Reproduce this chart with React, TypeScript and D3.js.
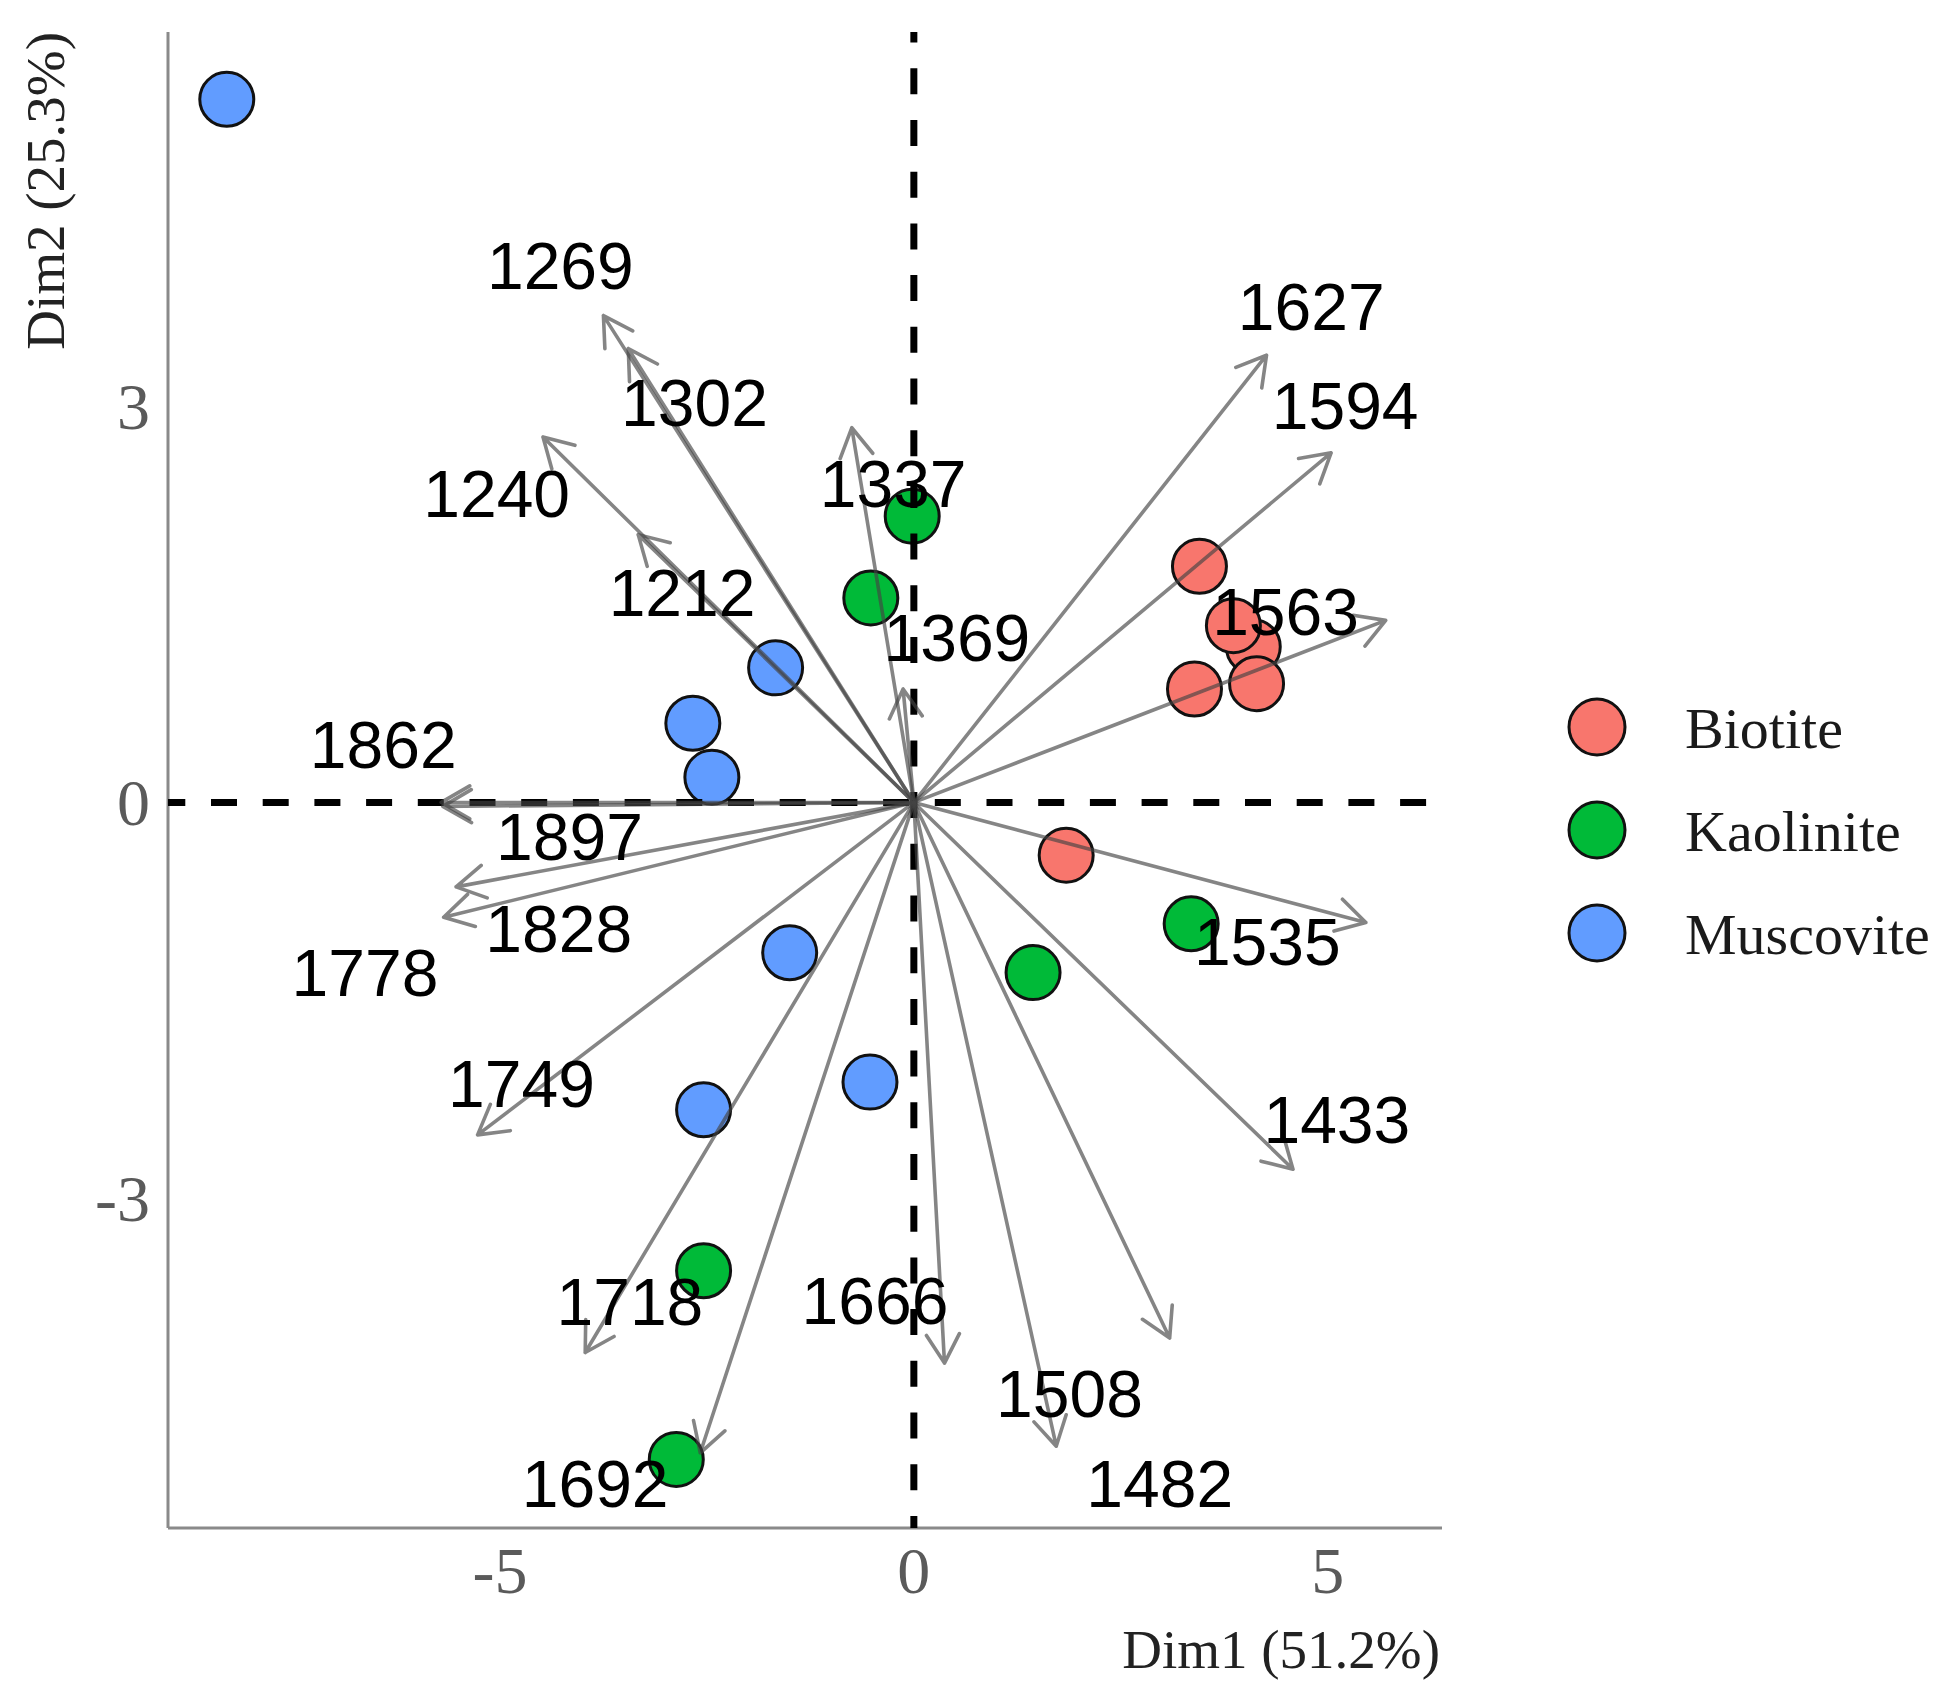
import { useEffect, useRef } from 'react';
import * as d3 from 'd3';

// PCA biplot: individuals (minerals) + variable loadings (wavenumbers)
const WIDTH = 1953;
const HEIGHT = 1706;

const groupNames = ['Biotite', 'Kaolinite', 'Muscovite'];
const groupColors = ['#F8766D', '#00BA38', '#619CFF'];

const biotiteDim1 = [4.1, 3.45, 3.86, 3.39, 4.14, 1.84];
const biotiteDim2 = [1.18, 1.79, 1.34, 0.86, 0.9, -0.4];
const kaoliniteDim1 = [-0.02, -0.52, 3.35, 1.44, -2.54, -2.87];
const kaoliniteDim2 = [2.17, 1.55, -0.92, -1.29, -3.55, -4.98];
const muscoviteDim1 = [-8.3, -1.67, -2.67, -2.44, -1.5, -0.53, -2.54];
const muscoviteDim2 = [5.33, 1.02, 0.6, 0.19, -1.14, -2.12, -2.33];

const wavenumbers = ['1269', '1302', '1240', '1212', '1337', '1369', '1627', '1594', '1563', '1862', '1897', '1828', '1778', '1749', '1718', '1692', '1666', '1508', '1482', '1433', '1535'];
const loadingDim1 = [-3.75, -3.45, -4.48, -3.33, -0.75, -0.13, 4.26, 5.04, 5.7, -5.71, -5.69, -5.53, -5.68, -5.27, -3.97, -2.58, 0.37, 3.09, 1.72, 4.58, 5.46];
const loadingDim2 = [3.69, 3.44, 2.77, 2.03, 2.84, 0.86, 3.39, 2.65, 1.38, 0.0, -0.03, -0.64, -0.87, -2.52, -4.17, -4.93, -4.25, -4.06, -4.88, -2.78, -0.91];
// repelled label positions (data units)
const labelDim1 = [-4.27, -2.65, -5.04, -2.8, -0.25, 0.52, 4.8, 5.21, 4.49, -6.41, -4.16, -4.29, -6.63, -4.74, -3.43, -3.85, -0.47, 1.88, 2.97, 5.11, 4.27];
const labelDim2 = [4.07, 3.03, 2.34, 1.59, 2.42, 1.25, 3.76, 3.01, 1.45, 0.44, -0.26, -0.95, -1.29, -2.13, -3.78, -5.16, -3.77, -4.48, -5.16, -2.4, -1.05];

const xTicks = [-5, 0, 5];
const yTicks = [-3, 0, 3];
const xTitle = 'Dim1 (51.2%)';
const yTitle = 'Dim2 (25.3%)';

const SERIF = "'Liberation Serif', 'Times New Roman', serif";
const SANS = "'Liberation Sans', Arial, sans-serif";

export default function App() {
    const svgRef = useRef<SVGSVGElement | null>(null);

    useEffect(() => {
        if (!svgRef.current) {
            return;
        }
        const svg = d3.select(svgRef.current);
        svg.selectAll('*').remove();

        const panel = { left: 168, right: 1442, top: 32, bottom: 1528 };
        const x = d3.scaleLinear().domain([-9.01, 6.38]).range([panel.left, panel.right]);
        const y = d3.scaleLinear().domain([-5.5, 5.84]).range([panel.bottom, panel.top]);
        const color = d3.scaleOrdinal<string, string>().domain(groupNames).range(groupColors);

        const samples = [
            ...biotiteDim1.map((v, i) => ({ group: 'Biotite', d1: v, d2: biotiteDim2[i] })),
            ...kaoliniteDim1.map((v, i) => ({ group: 'Kaolinite', d1: v, d2: kaoliniteDim2[i] })),
            ...muscoviteDim1.map((v, i) => ({ group: 'Muscovite', d1: v, d2: muscoviteDim2[i] })),
        ];

        const variables = wavenumbers.map((name, i) => ({
            name,
            d1: loadingDim1[i],
            d2: loadingDim2[i],
            l1: labelDim1[i],
            l2: labelDim2[i],
        }));

        svg.append('rect').attr('width', WIDTH).attr('height', HEIGHT).attr('fill', '#ffffff');

        // axis lines (left and bottom only)
        svg.append('line')
            .attr('x1', panel.left)
            .attr('x2', panel.left)
            .attr('y1', panel.top)
            .attr('y2', panel.bottom)
            .attr('stroke', '#8a8a8a')
            .attr('stroke-width', 3);
        svg.append('line')
            .attr('x1', panel.left)
            .attr('x2', panel.right)
            .attr('y1', panel.bottom)
            .attr('y2', panel.bottom)
            .attr('stroke', '#8a8a8a')
            .attr('stroke-width', 3);

        // tick labels
        svg.append('g')
            .selectAll('text')
            .data(xTicks)
            .join('text')
            .attr('x', (d) => x(d))
            .attr('y', 1593)
            .attr('text-anchor', 'middle')
            .attr('font-family', SERIF)
            .attr('font-size', 66)
            .attr('fill', '#5a5a5a')
            .text((d) => String(d));

        svg.append('g')
            .selectAll('text')
            .data(yTicks)
            .join('text')
            .attr('x', 150)
            .attr('y', (d) => y(d))
            .attr('dy', '0.34em')
            .attr('text-anchor', 'end')
            .attr('font-family', SERIF)
            .attr('font-size', 66)
            .attr('fill', '#5a5a5a')
            .text((d) => String(d));

        // axis titles
        svg.append('text')
            .attr('x', panel.right - 2)
            .attr('y', 1668)
            .attr('text-anchor', 'end')
            .attr('font-family', SERIF)
            .attr('font-size', 55)
            .attr('fill', '#222')
            .text(xTitle);

        svg.append('text')
            .attr('transform', `translate(64, ${panel.top}) rotate(-90)`)
            .attr('text-anchor', 'end')
            .attr('font-family', SERIF)
            .attr('font-size', 55)
            .attr('fill', '#222')
            .text(yTitle);

        // individuals
        svg.append('g')
            .selectAll('circle')
            .data(samples)
            .join('circle')
            .attr('cx', (d) => x(d.d1))
            .attr('cy', (d) => y(d.d2))
            .attr('r', 27)
            .attr('fill', (d) => color(d.group))
            .attr('stroke', '#111')
            .attr('stroke-width', 3);

        // reference lines at zero
        svg.append('line')
            .attr('x1', panel.left)
            .attr('x2', panel.right)
            .attr('y1', y(0))
            .attr('y2', y(0))
            .attr('stroke', '#000')
            .attr('stroke-width', 7)
            .attr('stroke-dasharray', '26 25.7')
            .attr('stroke-dashoffset', 8.7);
        svg.append('line')
            .attr('x1', x(0))
            .attr('x2', x(0))
            .attr('y1', panel.top)
            .attr('y2', panel.bottom)
            .attr('stroke', '#000')
            .attr('stroke-width', 7)
            .attr('stroke-dasharray', '26 25.7')
            .attr('stroke-dashoffset', 15.4);

        // loading arrows
        const ox = x(0);
        const oy = y(0);
        const headLen = 33;
        const headAngle = Math.PI / 6;
        const arrows = svg.append('g')
            .attr('fill', 'none')
            .attr('stroke', '#444')
            .attr('stroke-opacity', 0.65)
            .attr('stroke-width', 3.6)
            .attr('stroke-linecap', 'round')
            .attr('stroke-linejoin', 'round');

        arrows.selectAll('path')
            .data(variables)
            .join('path')
            .attr('d', (v) => {
                const tx = x(v.d1);
                const ty = y(v.d2);
                const a = Math.atan2(ty - oy, tx - ox);
                const b1x = tx - headLen * Math.cos(a - headAngle);
                const b1y = ty - headLen * Math.sin(a - headAngle);
                const b2x = tx - headLen * Math.cos(a + headAngle);
                const b2y = ty - headLen * Math.sin(a + headAngle);
                const path = d3.path();
                path.moveTo(ox, oy);
                path.lineTo(tx, ty);
                path.moveTo(b1x, b1y);
                path.lineTo(tx, ty);
                path.lineTo(b2x, b2y);
                return path.toString();
            });

        // variable labels
        svg.append('g')
            .selectAll('text')
            .data(variables)
            .join('text')
            .attr('x', (v) => x(v.l1))
            .attr('y', (v) => y(v.l2))
            .attr('dy', '0.36em')
            .attr('text-anchor', 'middle')
            .attr('font-family', SANS)
            .attr('font-size', 66)
            .attr('fill', '#000')
            .text((v) => v.name);

        // legend
        const legend = svg.append('g').attr('transform', 'translate(1597, 727)');
        const items = legend.selectAll('g')
            .data(groupNames)
            .join('g')
            .attr('transform', (_, i) => `translate(0, ${i * 103})`);
        items.append('circle')
            .attr('r', 28)
            .attr('fill', (d) => color(d))
            .attr('stroke', '#111')
            .attr('stroke-width', 3);
        items.append('text')
            .attr('x', 88)
            .attr('y', 21)
            .attr('font-family', SERIF)
            .attr('font-size', 58)
            .attr('fill', '#1a1a1a')
            .text((d) => d);
    }, []);

    return (
        <svg
            ref={svgRef}
            width={WIDTH}
            height={HEIGHT}
            viewBox={`0 0 ${WIDTH} ${HEIGHT}`}
            style={{ position: 'absolute', left: 0, top: 0, display: 'block' }}
            role="img"
            aria-label="PCA biplot of mineral spectra"
        />
    );
}
